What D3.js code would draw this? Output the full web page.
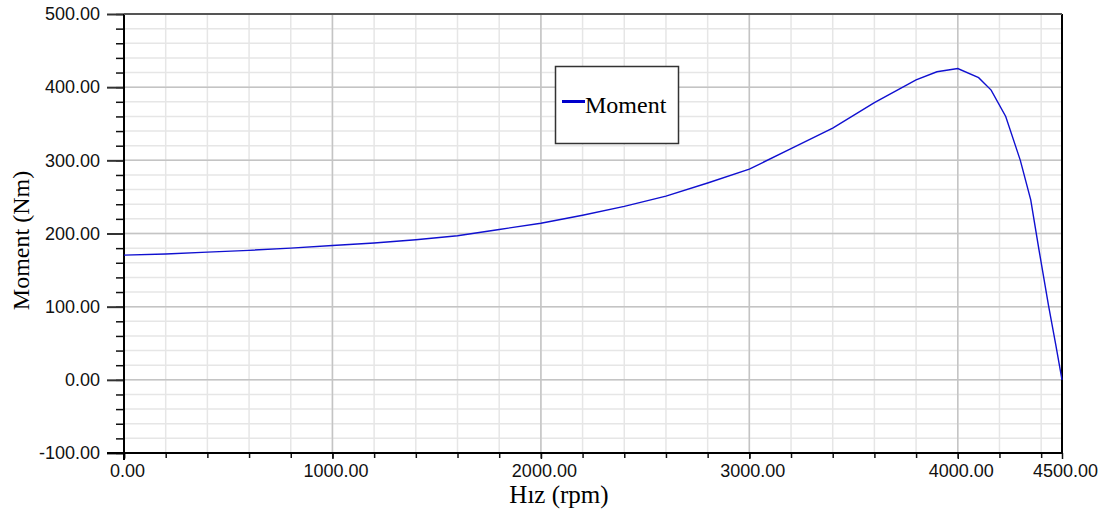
<!DOCTYPE html>
<html>
<head>
<meta charset="utf-8">
<script src="https://cdn.jsdelivr.net/npm/d3@7"></script>
<style>
  body { margin: 0; background: #fff; }
  .tick text { font-family: "Liberation Sans", Arial, sans-serif; font-size: 18px; fill: #111; }
  .domain { display: none; }
</style>
</head>
<body>
<div id="chart"></div>
<script>
// speed (rpm) and torque (Nm)
const speed = [0, 200, 400, 600, 800, 1000, 1200, 1400, 1600, 1800, 2000, 2200, 2400, 2600, 2800,
  3000, 3200, 3400, 3600, 3800, 3900, 4000, 4100, 4160, 4230, 4300, 4350, 4390, 4435, 4470, 4500];
const moment = [170.5, 172, 174.5, 177, 180, 183.5, 187, 191.5, 197, 205.5, 214, 225, 237, 251, 269,
  288, 316, 344, 379, 410, 421, 425.5, 413, 396, 360, 300, 246, 177, 102, 48, 0];
const seriesName = 'Moment';
const xTicks = [0, 1000, 2000, 3000, 4000, 4500];
const yTicks = [-100, 0, 100, 200, 300, 400, 500];

const width = 1099, height = 518;
const margin = {left: 124, right: 37, top: 14, bottom: 65};
const x0 = margin.left, x1 = width - margin.right;
const y0 = height - margin.bottom, y1 = margin.top;

const svg = d3.select('#chart').append('svg')
  .attr('width', width).attr('height', height);

const x = d3.scaleLinear().domain([0, 4500]).range([x0, x1]);
const y = d3.scaleLinear().domain([-100, 500]).range([y0, y1]);

const xMinor = d3.range(0, 4501, 200);
const yMinor = d3.range(-100, 501, 20);
const fmt = d => d.toFixed(2); // plain hyphen for negatives

// grid: minor first, then major
const grid = svg.append('g');
grid.selectAll('.vminor').data(xMinor).enter().append('line')
  .attr('x1', d => x(d)).attr('x2', d => x(d)).attr('y1', y1).attr('y2', y0)
  .attr('stroke', '#e6e6e6').attr('stroke-width', 1.5);
grid.selectAll('.hminor').data(yMinor).enter().append('line')
  .attr('x1', x0).attr('x2', x1).attr('y1', d => y(d)).attr('y2', d => y(d))
  .attr('stroke', '#e6e6e6').attr('stroke-width', 1.5);
grid.selectAll('.vmajor').data(xTicks).enter().append('line')
  .attr('x1', d => x(d)).attr('x2', d => x(d)).attr('y1', y1).attr('y2', y0)
  .attr('stroke', '#c4c4c4').attr('stroke-width', 1.5);
grid.selectAll('.hmajor').data(yTicks).enter().append('line')
  .attr('x1', x0).attr('x2', x1).attr('y1', d => y(d)).attr('y2', d => y(d))
  .attr('stroke', '#c4c4c4').attr('stroke-width', 1.5);

// minor ticks
svg.append('g').attr('transform', `translate(${x0},0)`)
  .call(d3.axisLeft(y).tickValues(yMinor).tickSize(8).tickFormat(''))
  .selectAll('line').attr('stroke', '#111').attr('stroke-width', 1.5);
svg.append('g').attr('transform', `translate(0,${y0})`)
  .call(d3.axisBottom(x).tickValues(xMinor).tickSize(5).tickFormat(''))
  .selectAll('line').attr('stroke', '#111').attr('stroke-width', 1.5);

// major ticks with labels
const yAxis = svg.append('g').attr('transform', `translate(${x0},0)`)
  .call(d3.axisLeft(y).tickValues(yTicks).tickSize(17).tickPadding(7).tickFormat(fmt));
yAxis.selectAll('line').attr('stroke', '#333').attr('stroke-width', 2);
const xAxis = svg.append('g').attr('transform', `translate(0,${y0})`)
  .call(d3.axisBottom(x).tickValues(xTicks).tickSize(6).tickPadding(5).tickFormat(fmt));
xAxis.selectAll('line').attr('stroke', '#111').attr('stroke-width', 1.5);
xAxis.selectAll('text').attr('dx', 3);

// frame
svg.append('line').attr('x1', x0).attr('x2', x0).attr('y1', y1).attr('y2', y0 + 7)
  .attr('stroke', '#000').attr('stroke-width', 2);
svg.append('line').attr('x1', x0 - 17).attr('x2', x1).attr('y1', y0).attr('y2', y0)
  .attr('stroke', '#000').attr('stroke-width', 2);
svg.append('line').attr('x1', x1).attr('x2', x1).attr('y1', y1).attr('y2', y0)
  .attr('stroke', '#000').attr('stroke-width', 2);
svg.append('line').attr('x1', x0).attr('x2', x1).attr('y1', y1).attr('y2', y1)
  .attr('stroke', '#555').attr('stroke-width', 2);

// curve
const pts = speed.map((s, i) => [s, moment[i]]);
svg.append('path').datum(pts)
  .attr('fill', 'none').attr('stroke', '#1010d0').attr('stroke-width', 1.4)
  .attr('d', d3.line().x(d => x(d[0])).y(d => y(d[1])));

// axis titles
svg.append('text')
  .attr('transform', `translate(29,${(y0 + y1) / 2 + 7}) rotate(-90)`)
  .attr('text-anchor', 'middle')
  .style('font-family', '"Liberation Serif", "Times New Roman", serif').style('font-size', '24px')
  .text('Moment (Nm)');
svg.append('text')
  .attr('x', 559).attr('y', 503).attr('text-anchor', 'middle')
  .style('font-family', '"Liberation Serif", "Times New Roman", serif').style('font-size', '25px')
  .text('Hız (rpm)');

// legend
const lg = svg.append('g');
lg.append('rect').attr('x', 555.5).attr('y', 66.5).attr('width', 123).attr('height', 77)
  .attr('fill', '#fff').attr('stroke', '#333').attr('stroke-width', 1.5);
lg.append('line').attr('x1', 562).attr('x2', 585).attr('y1', 101.5).attr('y2', 101.5)
  .attr('stroke', '#0000cc').attr('stroke-width', 3);
lg.append('text').attr('x', 585).attr('y', 113)
  .style('font-family', '"Liberation Serif", "Times New Roman", serif').style('font-size', '24px')
  .text(seriesName);
</script>
</body>
</html>
